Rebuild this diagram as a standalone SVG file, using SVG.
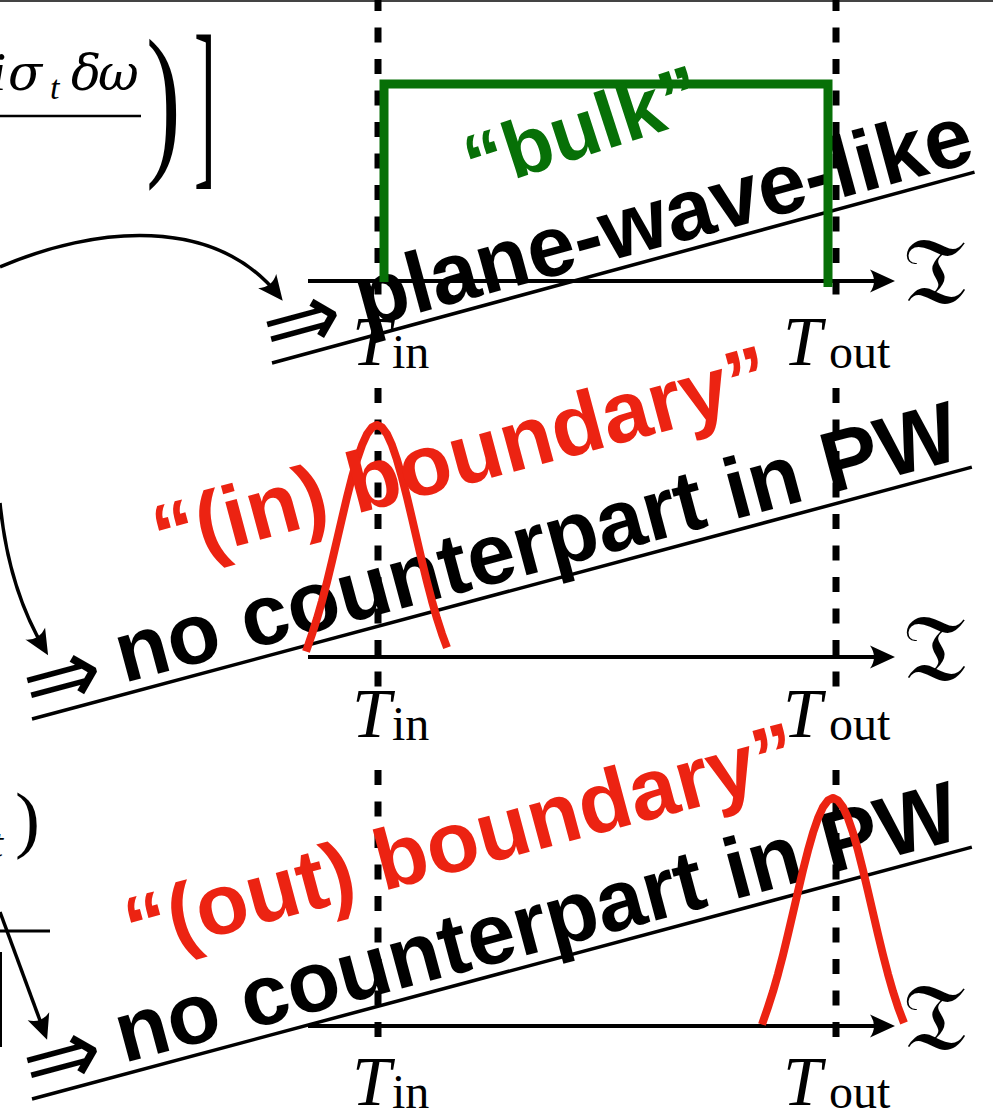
<svg xmlns="http://www.w3.org/2000/svg" width="993" height="1117" viewBox="0 0 993 1117">
<style>
.serif{font-family:"Liberation Serif","DejaVu Serif",serif;fill:#000}
.it{font-style:italic}
.greek{font-family:"DejaVu Serif","Liberation Serif",serif;font-style:italic;fill:#000}
.frak{font-family:"DejaVu Serif","DejaVu Sans","Noto Sans",serif;font-size:95px;fill:#000}
.big{font-family:"Liberation Sans",Arial,sans-serif;font-weight:bold;fill:#000}
.arr{font-family:"DejaVu Sans",sans-serif;font-size:95px;fill:#000}
.dash{stroke:#000;stroke-width:7;stroke-dasharray:15 16.5;fill:none}
.axis{stroke:#000;stroke-width:4;fill:none}
.conn{stroke:#000;stroke-width:3.5;fill:none}
.ul{stroke:#000;stroke-width:3.5}
.red{stroke:#ec2312;stroke-width:8;fill:none;stroke-linejoin:round}
.redtxt{font-family:"Liberation Sans",Arial,sans-serif;font-weight:bold;fill:#ec2312}
</style>
<defs>
<marker id="ah" viewBox="-26 -13 28 26" refX="-6" refY="0" markerWidth="28" markerHeight="26" markerUnits="userSpaceOnUse" orient="auto">
<path d="M0,0 L-25,-11.5 Q-17,0 -25,11.5 Z" fill="#000"/>
</marker>
</defs>
<rect width="993" height="1117" fill="#fff"/>
<line x1="0" y1="1" x2="993" y2="1" stroke="#444" stroke-width="2"/>

<g id="formula-fragments">
<text class="serif it" font-size="54" x="-9" y="90">i</text>
<text class="greek" font-size="50"><tspan x="8" y="90">σ</tspan><tspan x="71" y="90">δ</tspan><tspan x="98" y="90">ω</tspan></text>
<text class="serif it" font-size="34" x="50" y="99">t</text>
<line x1="0" y1="116" x2="141" y2="116" stroke="#000" stroke-width="2.5"/>
<text class="serif" font-size="168" transform="translate(146,155) scale(0.62,1)">)</text>
<text class="serif" font-size="187" transform="translate(194,164) scale(0.35,1)">]</text>
<text class="serif it" font-size="40" x="-8" y="857">t</text>
<text class="serif" font-size="75" x="15" y="844">)</text>
<line x1="0" y1="931" x2="50" y2="931" stroke="#000" stroke-width="3"/>
<line x1="1" y1="952" x2="1" y2="1047" stroke="#000" stroke-width="2"/>
</g>

<g id="panel-bulk">
<line class="dash" x1="378" y1="-4" x2="378" y2="302"/>
<line class="dash" x1="836" y1="-4" x2="836" y2="302"/>
<line class="axis" x1="308" y1="281" x2="889" y2="281" marker-end="url(#ah)"/>
<text class="frak" x="903" y="304">𝔗</text>
<text class="serif it" font-size="70" x="352" y="365">T</text><text class="serif" font-size="48" x="392" y="368">in</text>
<text class="serif it" font-size="70" x="783" y="365">T</text><text class="serif" font-size="48" x="829" y="368">out</text>
<g transform="translate(272,363) rotate(-15.2)">
<line class="ul" x1="0" y1="0" x2="728" y2="0"/>
<text class="arr" x="0" y="-1">⇒</text>
<text class="big" font-size="86" x="98" y="-10">plane-wave-like</text>
</g>
<path d="M384,282 V84 H828 V287" fill="none" stroke="#077007" stroke-width="9"/>
<text font-family="Liberation Sans,Arial,sans-serif" font-weight="bold" font-size="80" fill="#077007" transform="translate(475,192) rotate(-18)">“bulk”</text>
</g>

<g id="panel-in">
<line class="dash" x1="378" y1="388" x2="378" y2="690"/>
<line class="dash" x1="836" y1="388" x2="836" y2="690"/>
<line class="axis" x1="308" y1="657" x2="889" y2="657" marker-end="url(#ah)"/>
<text class="frak" x="903" y="681">𝔗</text>
<text class="serif it" font-size="70" x="352" y="737">T</text><text class="serif" font-size="48" x="392" y="740">in</text>
<text class="serif it" font-size="70" x="783" y="737">T</text><text class="serif" font-size="48" x="829" y="740">out</text>
<g transform="translate(32,719) rotate(-15)">
<line class="ul" x1="0" y1="0" x2="973" y2="0"/>
<text class="arr" x="0" y="-1">⇒</text>
<text class="big" font-size="86" x="98" y="-11">no counterpart in PW</text>
</g>
<polyline class="red" points="306,651.5 312,634.1 317,618.6 322,601.1 327,581.9 332,561.3 337,539.9 342,518.3 347,497.2 352,477.4 357,459.8 362,445.2 367,434.1 372,427.3 377,425 382,427.3 387,434.1 392,445.2 397,459.8 402,477.4 407,497.2 412,518.3 417,539.9 422,561.3 427,581.9 432,601.1 437,618.6 442,634.1 447,647.6"/>
<text class="redtxt" font-size="86" transform="translate(162,566) rotate(-15)">“(in) boundary”</text>
</g>

<g id="panel-out">
<line class="dash" x1="378" y1="770" x2="378" y2="1045"/>
<line class="dash" x1="836" y1="770" x2="836" y2="1045"/>
<line class="axis" x1="308" y1="1026" x2="889" y2="1026" marker-end="url(#ah)"/>
<text class="frak" x="903" y="1050">𝔗</text>
<text class="serif it" font-size="70" x="352" y="1105">T</text><text class="serif" font-size="48" x="392" y="1108">in</text>
<text class="serif it" font-size="70" x="783" y="1105">T</text><text class="serif" font-size="48" x="829" y="1108">out</text>
<g transform="translate(32,1099) rotate(-15)">
<line class="ul" x1="0" y1="0" x2="973" y2="0"/>
<text class="arr" x="0" y="-1">⇒</text>
<text class="big" font-size="86" x="98" y="-11">no counterpart in PW</text>
</g>
<polyline class="red" points="762,1024.5 768,1007.1 773,991.6 778,974.1 783,954.9 788,934.3 793,912.9 798,891.3 803,870.2 808,850.4 813,832.8 818,818.2 823,807.1 828,800.3 833,798 838,800.3 843,807.1 848,818.2 853,832.8 858,850.4 863,870.2 868,891.3 873,912.9 878,934.3 883,954.9 888,974.1 893,991.6 898,1007.1 904,1023"/>
<text class="redtxt" font-size="86" transform="translate(134,958) rotate(-15)">“(out) boundary”</text>
</g>

<g id="connectors">
<path class="conn" d="M0,267 C95,226 215,215 279,296" marker-end="url(#ah)"/>
<path class="conn" d="M0,503 C6,565 24,615 45,650" marker-end="url(#ah)"/>
<path class="conn" d="M0,912 L45,1034" marker-end="url(#ah)"/>
</g>
</svg>
